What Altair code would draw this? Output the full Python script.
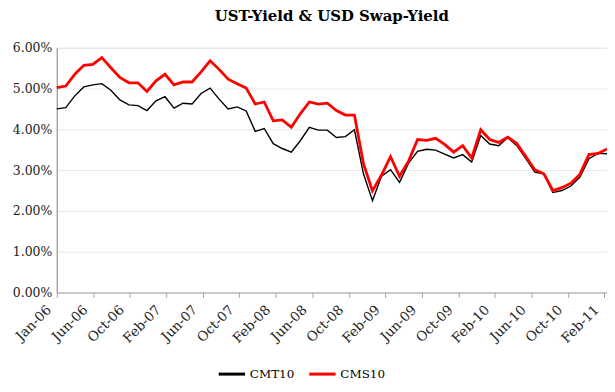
import altair as alt
import pandas as pd

tick_labels = ["Jan-06", "Jun-06", "Oct-06", "Feb-07", "Jun-07", "Oct-07", "Feb-08", "Jun-08",
               "Oct-08", "Feb-09", "Jun-09", "Oct-09", "Feb-10", "Jun-10", "Oct-10", "Feb-11"]

cmt10 = [4.50, 4.53, 4.82, 5.04, 5.09, 5.12, 4.96, 4.72, 4.60, 4.58,
         4.46, 4.70, 4.80, 4.52, 4.64, 4.62, 4.88, 5.01, 4.74, 4.50,
         4.55, 4.45, 3.95, 4.02, 3.65, 3.53, 3.44, 3.72, 4.05, 3.98,
         3.98, 3.80, 3.82, 3.99, 2.91, 2.25, 2.85, 3.01, 2.70, 3.17,
         3.46, 3.51, 3.49, 3.39, 3.30, 3.38, 3.20, 3.85, 3.64, 3.60,
         3.80, 3.60, 3.28, 2.95, 2.91, 2.45, 2.50, 2.61, 2.83, 3.28,
         3.41, 3.40]

cms10 = [5.02, 5.06, 5.35, 5.57, 5.59, 5.76, 5.51, 5.27, 5.14, 5.14,
         4.93, 5.19, 5.35, 5.09, 5.16, 5.16, 5.41, 5.68, 5.47, 5.23,
         5.12, 5.01, 4.62, 4.67, 4.21, 4.23, 4.05, 4.38, 4.67, 4.62,
         4.64, 4.46, 4.35, 4.35, 3.16, 2.49, 2.88, 3.33, 2.85, 3.22,
         3.75, 3.73, 3.78, 3.63, 3.44, 3.60, 3.30, 3.99, 3.75, 3.68,
         3.81, 3.65, 3.33, 3.01, 2.91, 2.50, 2.57, 2.68, 2.90, 3.38,
         3.41, 3.52]

series_names = ["CMT10", "CMS10"]
series_colors = ["#000000", "#ff0000"]

n = len(cmt10)
df = pd.DataFrame({
    "i": list(range(n)) * 2,
    "value": cmt10 + cms10,
    "series": [series_names[0]] * n + [series_names[1]] * n,
})

step = (n - 1) / 15.07
tick_vals = [round(k * step, 3) for k in range(len(tick_labels))]
label_js = "[" + ",".join("'" + t + "'" for t in tick_labels) + "]"
label_expr = label_js + "[round(datum.value / " + str(step) + ")]"

FONT = "DejaVu Serif"

x_enc = alt.X("i:Q",
              scale=alt.Scale(domain=[0, n - 1], nice=False, zero=False),
              axis=alt.Axis(values=tick_vals, labelExpr=label_expr, title=None,
                            grid=False, labelAngle=-45, labelAlign="right",
                            labelBaseline="middle", labelPadding=10, labelOffset=-8,
                            labelOverlap=False, labelBound=False, labelFlush=False,
                            tickSize=5, tickColor="#a6a6a6", domainColor="#a6a6a6",
                            labelFont=FONT, labelFontSize=13.5, labelColor="#222222"))
y_enc = alt.Y("value:Q",
              scale=alt.Scale(domain=[0, 6], nice=False),
              axis=alt.Axis(values=[0, 1, 2, 3, 4, 5, 6],
                            labelExpr="format(datum.value, '.2f') + '%'",
                            title=None, grid=True, gridColor="#e8e8e8",
                            tickSize=0, labelPadding=5, domainColor="#8a8a8a",
                            labelFont=FONT, labelFontSize=12.5, labelColor="#222222"))
color_enc = alt.Color("series:N",
                      scale=alt.Scale(domain=series_names, range=series_colors),
                      legend=alt.Legend(title=None, orient="none", direction="horizontal",
                                        legendX=161, legendY=313,
                                        symbolType="stroke", symbolSize=700,
                                        symbolStrokeWidth=3, labelFont=FONT,
                                        labelFontSize=12, labelColor="#000000",
                                        columnPadding=8, labelOffset=3))

black = alt.Chart(df).transform_filter(alt.datum.series == "CMT10").mark_line(
    strokeWidth=1.4).encode(x=x_enc, y=y_enc, color=color_enc)
red = alt.Chart(df).transform_filter(alt.datum.series == "CMS10").mark_line(
    strokeWidth=2.8).encode(x=x_enc, y=y_enc, color=color_enc)

chart = alt.layer(black, red).properties(
    width=553, height=246,
    title=alt.Title("UST-Yield & USD Swap-Yield", font=FONT, fontSize=15,
                    fontWeight="bold", color="#000000", anchor="middle", offset=18),
    autosize=alt.AutoSizeParams(type="none"),
    padding={"left": 49, "top": 39, "right": 0, "bottom": 90},
).configure_view(stroke="#a6a6a6", strokeWidth=1).configure_legend(
    labelFont=FONT, labelFontSize=12, labelColor="#000000"
).configure(background="white")

chart.save("out.html", embed_options={"renderer": "svg", "actions": False})
